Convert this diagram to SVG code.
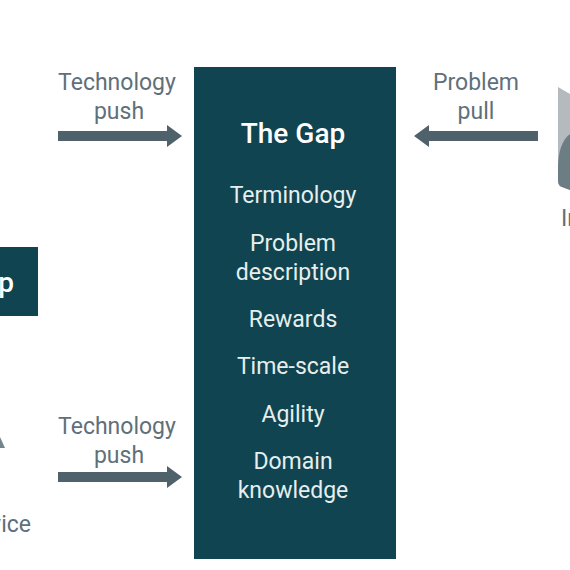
<svg xmlns="http://www.w3.org/2000/svg" width="570" height="570" viewBox="0 0 570 570">
<style>
text{font-family:"Roboto","Lato",sans-serif;text-anchor:middle;font-size:23px;font-weight:400}
.g{fill:#5f7079}
.w{fill:#e6eeee}
.t{fill:#fff;font-weight:500;font-size:28px}
.box{fill:#0f4450}
.arr{fill:#4f626c}
</style>
<rect width="570" height="570" fill="#fff"/>
<g id="gap-box"><rect class="box" x="194" y="67" width="202" height="492"/>
<text class="t" x="293" y="143">The Gap</text>
<text class="w" x="293" y="203">Terminology</text>
<text class="w" x="293" y="251">Problem</text>
<text class="w" x="293" y="280">description</text>
<text class="w" x="293" y="327">Rewards</text>
<text class="w" x="293" y="374">Time-scale</text>
<text class="w" x="293" y="422">Agility</text>
<text class="w" x="293" y="469">Domain</text>
<text class="w" x="293" y="498">knowledge</text></g>
<g id="left-box"><rect class="box" x="-20" y="247" width="58" height="69"/><text class="t" x="14" y="292" style="text-anchor:end">p</text></g>
<g id="device"><path d="M0 437L5 448H0Z" fill="#75858c"/><text class="g" x="31" y="532" style="text-anchor:end">vice</text></g>
<g id="industry"><path d="M558 87L570 94V190L562 187Q558 186 558 180Z" fill="#b4babd"/><path d="M558 180V168C558 152 562 140 570 134V190L562 187Q558 186 558 180Z" fill="#6c7d84"/><text class="g" x="561" y="226" style="text-anchor:start">In</text></g>
<g id="connectors">
<path class="arr" d="M58 131H167V125L182 136L167 147V141H58Z"/>
<path class="arr" d="M58 472H167V466L182 477L167 488V482H58Z"/>
<path class="arr" d="M538 131H429V125L414 136L429 147V141H538Z"/>
</g>
<g id="labels">
<text class="g" x="117" y="90">Technology</text><text class="g" x="119" y="119">push</text>
<text class="g" x="117" y="434">Technology</text><text class="g" x="119" y="463">push</text>
<text class="g" x="476" y="90">Problem</text><text class="g" x="476" y="119">pull</text>
</g>
</svg>
